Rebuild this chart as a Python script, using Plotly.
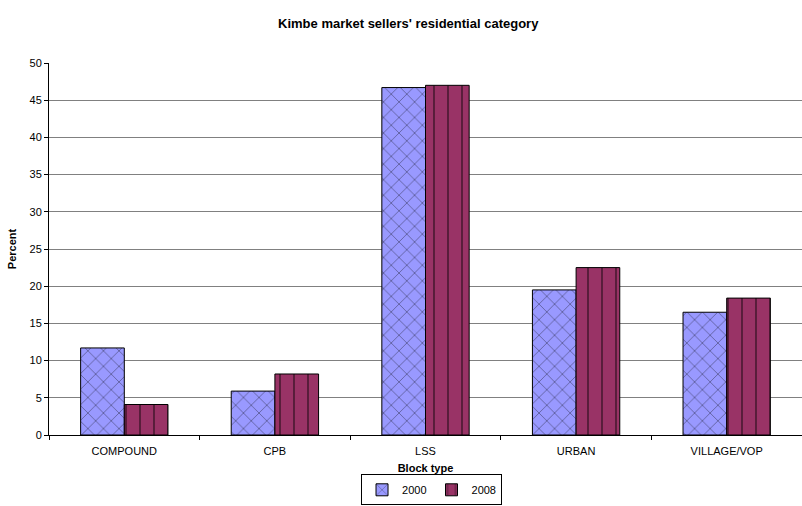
import plotly.graph_objects as go

categories = ["COMPOUND", "CPB", "LSS", "URBAN", "VILLAGE/VOP"]
series_names = ["2000", "2008"]
values_2000 = [11.7, 5.9, 46.7, 19.5, 16.5]
values_2008 = [4.1, 8.2, 47.0, 22.5, 18.4]
y_ticks = [0, 5, 10, 15, 20, 25, 30, 35, 40, 45, 50]

fig = go.Figure()
fig.add_trace(go.Bar(
    name=series_names[0], x=categories, y=values_2000,
    marker=dict(color="#9999FF", line=dict(color="#000000", width=1),
                pattern=dict(shape="x", fgcolor="#000000", size=11, solidity=0.12)),
))
fig.add_trace(go.Bar(
    name=series_names[1], x=categories, y=values_2008,
    marker=dict(color="#993366", line=dict(color="#000000", width=1),
                pattern=dict(shape="|", fgcolor="#000000", size=14, solidity=0.12)),
))

fig.update_layout(
    width=802, height=506,
    margin=dict(l=49, r=0, t=63, b=71),
    paper_bgcolor="white", plot_bgcolor="white",
    font=dict(family="Liberation Sans, Arial, sans-serif", size=11, color="#000000"),
    barmode="group", bargap=0.42, bargroupgap=0,
    title=dict(text="<b>Kimbe market sellers' residential category</b>",
               x=0.509, xanchor="center", y=0.953, yanchor="middle",
               font=dict(size=13)),
    showlegend=True,
    legend=dict(orientation="h", x=0.508, xanchor="center",
                yref="container", y=0.032, yanchor="middle",
                bordercolor="#000000", borderwidth=1, font=dict(size=11),
                itemwidth=30, tracegroupgap=0),
)
fig.update_xaxes(
    automargin=False,
    title=dict(text="<b>Block type</b>", font=dict(size=11), standoff=14),
    showline=True, linecolor="#000000", linewidth=1,
    ticks="outside", tickson="boundaries", ticklen=4, tickcolor="#000000",
    ticklabelstandoff=6, tickfont=dict(size=11),
    showgrid=False,
)
fig.update_yaxes(
    automargin=False,
    title=dict(text="<b>Percent</b>", font=dict(size=11), standoff=10),
    range=[0, 50], tickvals=y_ticks, tickfont=dict(size=11),
    showline=True, linecolor="#000000", linewidth=1,
    ticks="outside", ticklen=4, tickcolor="#000000",
    showgrid=True, gridcolor="#808080", gridwidth=1,
    zeroline=False,
)

fig.write_html("out.html")
